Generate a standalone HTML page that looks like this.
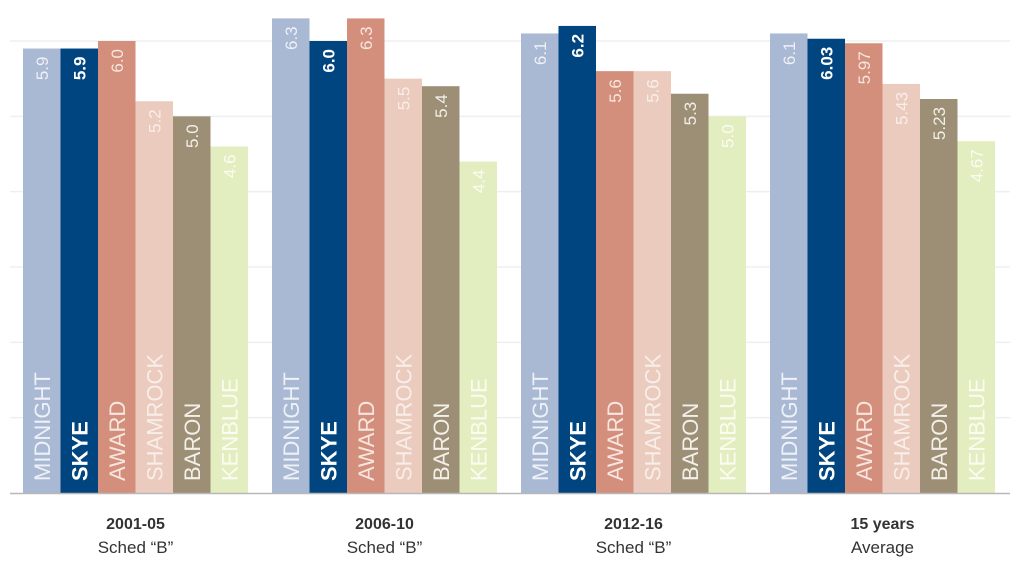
<!DOCTYPE html>
<html><head><meta charset="utf-8"><style>
body{margin:0;background:#fff;}
svg{display:block;font-family:"Liberation Sans",sans-serif;}
</style></head><body>
<svg id="chart" width="1024" height="579" viewBox="0 0 1024 579" xmlns="http://www.w3.org/2000/svg"></svg>
<script>
const groupTitles = ["2001-05", "2006-10", "2012-16", "15 years"];
const groupSubtitles = ["Sched \u201cB\u201d", "Sched \u201cB\u201d", "Sched \u201cB\u201d", "Average"];
const seriesNames = ["MIDNIGHT", "SKYE", "AWARD", "SHAMROCK", "BARON", "KENBLUE"];
const valuesMidnight = [5.9, 6.3, 6.1, 6.1];
const valuesSkye = [5.9, 6.0, 6.2, 6.03];
const valuesAward = [6.0, 6.3, 5.6, 5.97];
const valuesShamrock = [5.2, 5.5, 5.6, 5.43];
const valuesBaron = [5.0, 5.4, 5.3, 5.23];
const valuesKenblue = [4.6, 4.4, 5.0, 4.67];
const valueLabels = [
  ["5.9","6.3","6.1","6.1"],
  ["5.9","6.0","6.2","6.03"],
  ["6.0","6.3","5.6","5.97"],
  ["5.2","5.5","5.6","5.43"],
  ["5.0","5.4","5.3","5.23"],
  ["4.6","4.4","5.0","4.67"]
];
const gridTicks = [0, 1, 2, 3, 4, 5, 6];

const series = [valuesMidnight, valuesSkye, valuesAward, valuesShamrock, valuesBaron, valuesKenblue];
const colors = ["#a9b8d3", "#00457f", "#d38f7c", "#ebcbbe", "#9c8f76", "#e2eebf"];
const labelColors = ["#eef1f7", "#ffffff", "#f7e6e0", "#f8eee9", "#f3f0ea", "#fafcf2"];
const NS = "http://www.w3.org/2000/svg";
const svg = document.getElementById("chart");
const y0 = 493, yTop = 41, vMax = 6;
const y = v => y0 - (v / vMax) * (y0 - yTop);
const groupX = i => 23 + i * 249;
const barW = 37.5;
const barX = (g, s) => groupX(g) + s * barW;

function mk(tag, attrs) { const e = document.createElementNS(NS, tag); for (const k in attrs) e.setAttribute(k, attrs[k]); svg.appendChild(e); return e; }

gridTicks.forEach(t => {
  if (t === 0) return;
  const l = mk("line", {x1: 10, x2: 1010, y1: y(t), y2: y(t), stroke: "#efefef", "stroke-width": 1.5});
  
  
});

series.forEach((vals, s) => {
  vals.forEach((v, g) => {
    const x = barX(g, s);
    const r = mk("rect", {x: x, y: y(v), width: barW, height: y0 - y(v), fill: colors[s]});
    
    
    const cx = x + barW / 2 + 6;
    const vt = mk("text", {x: 0, y: 0, fill: labelColors[s], "font-size": 17, "font-weight": s === 1 ? "bold" : "normal", "text-anchor": "end", transform: `translate(${cx},${y(v) + 8}) rotate(-90)`});
    vt.textContent = valueLabels[s][g];
    
    
    const nt = mk("text", {x: 0, y: 0, fill: labelColors[s], "font-size": 22, "font-weight": s === 1 ? "bold" : "normal", "text-anchor": "start", transform: `translate(${x + barW / 2 + 8},${y0 - 12}) rotate(-90)`});
    nt.textContent = seriesNames[s];
    
    
  });
});

const base = mk("line", {x1: 10, x2: 1010, y1: y0 + 0.5, y2: y0 + 0.5, stroke: "#b8b8b8", "stroke-width": 1.5});



groupTitles.forEach((t, g) => {
  const cx = groupX(g) + barW * 3;
  const a = mk("text", {x: cx, y: 529, "text-anchor": "middle", "font-size": 16, "font-weight": "bold", fill: "#333"});
  a.textContent = t;
  
  
  const b = mk("text", {x: cx, y: 553, "text-anchor": "middle", "font-size": 17, fill: "#333"});
  b.textContent = groupSubtitles[g];
  
  
});
</script>
</body></html>
